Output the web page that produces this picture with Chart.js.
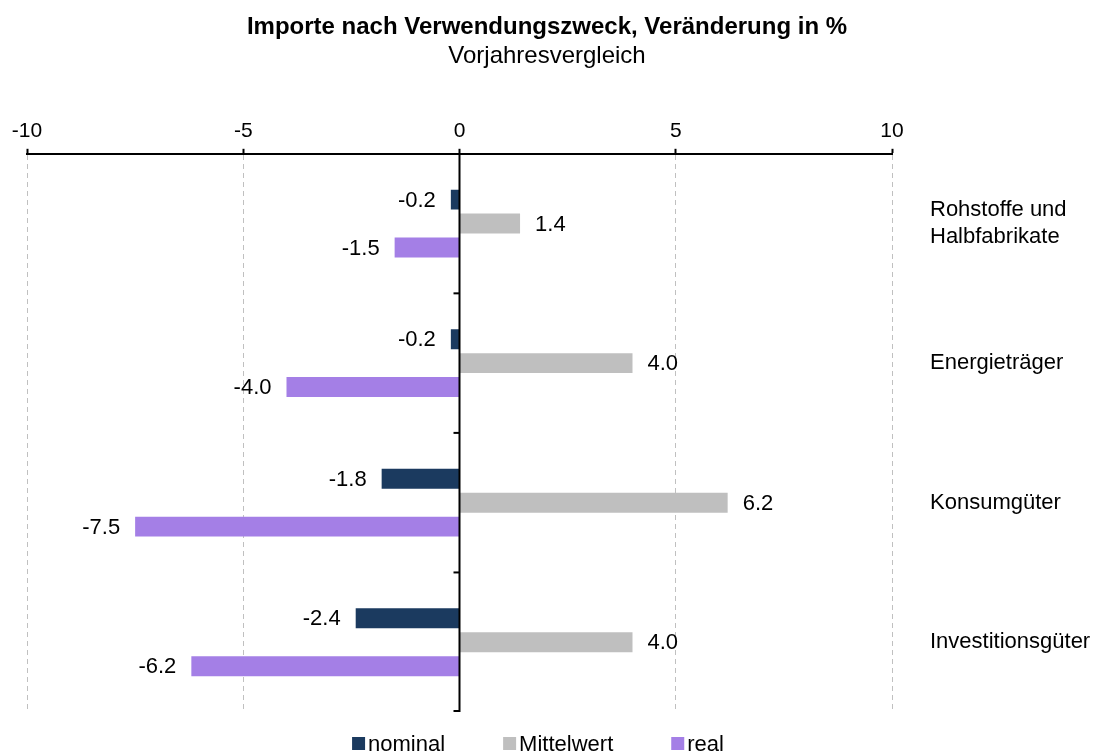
<!DOCTYPE html>
<html>
<head>
<meta charset="utf-8">
<script src="https://cdn.jsdelivr.net/npm/chart.js@4"></script>
<style>
body { margin: 0; background: #fff; }
</style>
</head>
<body>
<canvas id="myChart" width="1094" height="753"></canvas>
<script>
var categories = [['Rohstoffe und', 'Halbfabrikate'], 'Energieträger', 'Konsumgüter', 'Investitionsgüter'];
var seriesNames = ['nominal', 'Mittelwert', 'real'];
var nominal = [-0.2, -0.2, -1.8, -2.4];
var mittelwert = [1.4, 4.0, 6.2, 4.0];
var real = [-1.5, -4.0, -7.5, -6.2];
var xMin = -10, xMax = 10, xStep = 5;
var colors = ['#1b3a5f', '#bfbfbf', '#a47fe6'];

var fontFamily = '"Liberation Sans", Arial, sans-serif';
Chart.defaults.font.family = fontFamily;
Chart.defaults.color = '#000';

// zero line, category ticks, value labels and legend
var extras = {
	id: 'extras',
	afterDatasetsDraw: function(chart) {
		var ctx = chart.ctx, xs = chart.scales.x, ys = chart.scales.y, area = chart.chartArea;
		var x0 = xs.getPixelForValue(0);
		ctx.save();
		ctx.strokeStyle = '#000';
		ctx.lineWidth = 2;
		ctx.beginPath();
		ctx.moveTo(x0, area.top);
		ctx.lineTo(x0, area.bottom);
		ctx.stroke();
		for (var i = 0; i < categories.length; i++) {
			var yb = i < categories.length - 1 ? (ys.getPixelForValue(i) + ys.getPixelForValue(i + 1)) / 2 : area.bottom - 1;
			ctx.beginPath();
			ctx.moveTo(x0 - 6, yb);
			ctx.lineTo(x0, yb);
			ctx.stroke();
		}

		ctx.font = '22px ' + fontFamily;
		ctx.fillStyle = '#000';
		ctx.textBaseline = 'middle';
		chart.data.datasets.forEach(function(ds, di) {
			chart.getDatasetMeta(di).data.forEach(function(bar, i) {
				var v = ds.data[i];
				ctx.textAlign = v < 0 ? 'right' : 'left';
				ctx.fillText(v.toFixed(1), v < 0 ? bar.x - 15 : bar.x + 15, bar.y + 1);
			});
		});

		// legend
		var box = 13, gap = 3, spacing = 58;
		ctx.font = '22px ' + fontFamily;
		var widths = chart.data.datasets.map(function(ds) { return box + gap + ctx.measureText(ds.label).width; });
		var total = widths.reduce(function(a, b) { return a + b; }, 0) + spacing * (widths.length - 1);
		var lx = 538 - total / 2;
		ctx.textAlign = 'left';
		ctx.textBaseline = 'alphabetic';
		chart.data.datasets.forEach(function(ds, di) {
			ctx.fillStyle = ds.backgroundColor;
			ctx.fillRect(lx, 737, box, box);
			ctx.fillStyle = '#000';
			ctx.fillText(ds.label, lx + box + gap, 751);
			lx += widths[di] + spacing;
		});
		ctx.restore();
	}
};

var ctx = document.getElementById('myChart');
var chart = new Chart(ctx, {
	type: 'bar',
	data: {
		labels: categories,
		datasets: [
			{ label: seriesNames[0], data: nominal, backgroundColor: colors[0] },
			{ label: seriesNames[1], data: mittelwert, backgroundColor: colors[1] },
			{ label: seriesNames[2], data: real, backgroundColor: colors[2] }
		]
	},
	options: {
		indexAxis: 'y',
		responsive: false,
		animation: false,
		datasets: { bar: { categoryPercentage: 0.515, barPercentage: 0.833 } },
		layout: { padding: { left: 0, right: 0, top: 0, bottom: 41 } },
		plugins: {
			legend: { display: false },
			tooltip: { enabled: false },
			title: {
				display: true,
				text: 'Importe nach Verwendungszweck, Veränderung in %',
				font: { size: 24, weight: 'bold' },
				color: '#000',
				padding: { top: 13, bottom: 0 }
			},
			subtitle: {
				display: true,
				text: 'Vorjahresvergleich',
				font: { size: 24 },
				color: '#000',
				padding: { top: 0, bottom: 43 }
			}
		},
		scales: {
			x: {
				position: 'top',
				min: xMin,
				max: xMax,
				ticks: { stepSize: xStep, font: { size: 21 }, color: '#000', padding: 5 },
				grid: {
					color: function(c) { return c.tick && c.tick.value === 0 ? 'rgba(0,0,0,0)' : '#c0c0c0'; },
					lineWidth: 1,
					tickLength: 5,
					tickColor: '#000',
					tickWidth: 2,
					tickBorderDash: []
				},
				border: { color: '#000', width: 2, dash: [5, 4] },
				afterFit: function(s) { s.paddingLeft = 27; s.paddingRight = 0; }
			},
			y: {
				position: 'right',
				grid: { display: false, drawTicks: false },
				border: { display: false },
				ticks: { crossAlign: 'near', padding: 38, font: { size: 22 }, color: '#000' },
				afterFit: function(s) { s.width = 202; s.paddingTop = 0; s.paddingBottom = 0; }
			}
		}
	},
	plugins: [extras]
});
</script>
</body>
</html>
